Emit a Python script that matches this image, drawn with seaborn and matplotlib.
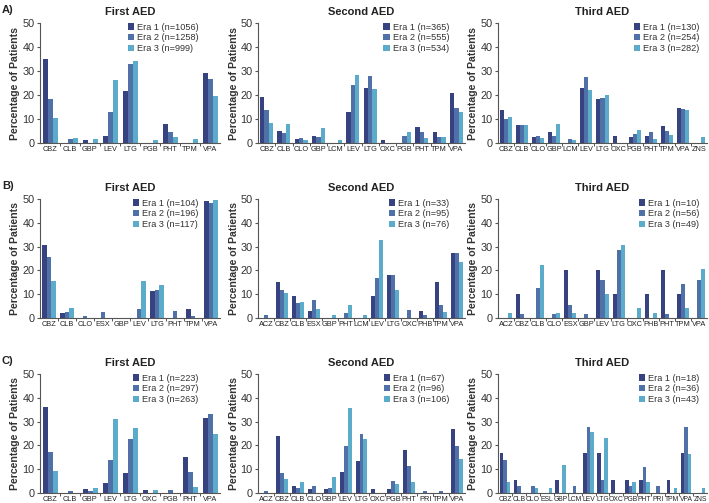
import numpy as np
import pandas as pd
import seaborn as sns
import matplotlib.pyplot as plt

sns.set_theme(style="ticks")
plt.rcParams['font.family'] = ['Liberation Sans', 'DejaVu Sans']

era_names = ["Era 1", "Era 2", "Era 3"]
era_colors = ["#2b3a8c", "#416db6", "#4ab3dc"]
row_labels = ["A)", "B)", "C)"]
col_titles = ["First AED", "Second AED", "Third AED"]

# ---- Row A ----
a1_drugs = ["CBZ", "CLB", "GBP", "LEV", "LTG", "PGB", "PHT", "TPM", "VPA"]
a1_n = [1056, 1258, 999]
a1_era1 = [35.0, 0.0, 1.4, 2.8, 21.8, 0.0, 7.8, 0.0, 29.0]
a1_era2 = [18.3, 1.8, 0.0, 13.0, 32.8, 0.0, 4.6, 0.0, 26.7]
a1_era3 = [10.6, 2.1, 1.8, 26.3, 34.2, 1.1, 2.4, 1.7, 19.5]

a2_drugs = ["CBZ", "CLB", "CLO", "GBP", "LCM", "LEV", "LTG", "OXC", "PGB", "PHT", "TPM", "VPA"]
a2_n = [365, 555, 534]
a2_era1 = [19.3, 5.2, 1.7, 3.0, 0.0, 13.0, 23.0, 1.4, 0.0, 6.8, 4.4, 20.8]
a2_era2 = [13.6, 4.1, 2.2, 2.3, 0.0, 24.0, 28.0, 0.0, 3.0, 4.5, 2.7, 14.4]
a2_era3 = [8.4, 8.1, 1.1, 6.3, 1.1, 28.5, 22.7, 0.0, 4.5, 2.2, 2.6, 13.1]

a3_drugs = ["CBZ", "CLB", "CLO", "GBP", "LCM", "LEV", "LTG", "OXC", "PGB", "PHT", "TPM", "VPA", "ZNS"]
a3_n = [130, 254, 282]
a3_era1 = [13.8, 7.7, 2.3, 4.6, 0.0, 23.1, 18.5, 3.1, 2.3, 3.1, 6.9, 14.6, 0.0]
a3_era2 = [10.1, 7.5, 2.9, 2.8, 1.6, 27.6, 18.9, 0.0, 3.9, 4.7, 5.1, 14.2, 0.0]
a3_era3 = [11.0, 7.4, 2.2, 7.8, 1.1, 22.0, 20.2, 0.0, 5.3, 1.8, 3.5, 13.8, 2.5]

# ---- Row B ----
b1_drugs = ["CBZ", "CLB", "CLO", "ESX", "GBP", "LEV", "LTG", "PHT", "TPM", "VPA"]
b1_n = [104, 196, 117]
b1_era1 = [30.8, 1.9, 0.0, 0.0, 0.0, 0.0, 11.5, 0.0, 3.8, 49.0]
b1_era2 = [25.5, 2.6, 1.0, 2.6, 0.0, 3.6, 11.7, 3.1, 1.0, 48.5]
b1_era3 = [15.4, 4.3, 0.0, 0.0, 0.0, 15.4, 13.7, 0.0, 0.0, 49.6]

b2_drugs = ["ACZ", "CBZ", "CLB", "ESX", "GBP", "PHT", "LCM", "LEV", "LTG", "OXC", "PHB", "TPM", "VPA"]
b2_n = [33, 95, 76]
b2_era1 = [0.0, 15.2, 9.1, 3.0, 0.0, 0.0, 0.0, 9.1, 18.2, 0.0, 3.0, 15.2, 27.3]
b2_era2 = [1.1, 11.6, 6.3, 7.4, 0.0, 2.1, 0.0, 16.8, 17.9, 3.2, 1.1, 5.3, 27.4]
b2_era3 = [0.0, 10.5, 6.6, 3.9, 1.3, 5.3, 1.3, 32.9, 11.8, 0.0, 0.0, 2.6, 23.7]

b3_drugs = ["ACZ", "CBZ", "CLB", "CLO", "ESX", "GBP", "LEV", "LTG", "OXC", "PHB", "PHT", "TPM", "VPA"]
b3_n = [10, 56, 49]
b3_era1 = [0.0, 10.0, 0.0, 0.0, 20.0, 0.0, 20.0, 10.0, 0.0, 10.0, 20.0, 10.0, 0.0]
b3_era2 = [0.0, 1.8, 12.5, 1.8, 5.4, 1.8, 16.1, 28.6, 0.0, 0.0, 1.8, 14.3, 16.1]
b3_era3 = [2.0, 0.0, 22.4, 2.0, 2.0, 0.0, 10.2, 30.6, 4.1, 2.0, 0.0, 4.1, 20.4]

# ---- Row C ----
c1_drugs = ["CBZ", "CLB", "GBP", "LEV", "LTG", "OXC", "PGB", "PHT", "VPA"]
c1_n = [223, 297, 263]
c1_era1 = [36.3, 0.0, 1.8, 4.0, 8.5, 1.3, 0.0, 15.2, 31.4]
c1_era2 = [17.2, 1.0, 1.0, 13.8, 22.6, 0.0, 1.3, 8.8, 33.0]
c1_era3 = [9.1, 0.0, 1.9, 31.2, 27.4, 1.1, 0.0, 2.7, 24.7]

c2_drugs = ["ACZ", "CBZ", "CLB", "CLO", "GBP", "LEV", "LTG", "OXC", "PGB", "PHT", "PRI", "TPM", "VPA"]
c2_n = [67, 96, 106]
c2_era1 = [0.0, 23.9, 3.0, 1.5, 1.5, 9.0, 13.4, 1.5, 1.5, 17.9, 0.0, 0.0, 26.9]
c2_era2 = [1.0, 8.3, 2.1, 3.1, 2.1, 19.8, 25.0, 0.0, 5.2, 11.5, 1.0, 1.0, 19.8]
c2_era3 = [0.0, 5.7, 4.7, 0.0, 6.6, 35.8, 22.6, 0.0, 3.8, 4.7, 0.0, 0.0, 14.2]

c3_drugs = ["CBZ", "CLB", "CLO", "ESL", "GBP", "LCM", "LEV", "LTG", "OXC", "PGB", "PHT", "PRI", "TPM", "VPA", "ZNS"]
c3_n = [18, 36, 43]
c3_era1 = [16.7, 5.6, 0.0, 0.0, 5.6, 0.0, 16.7, 16.7, 5.6, 5.6, 5.6, 0.0, 5.6, 16.7, 0.0]
c3_era2 = [13.9, 2.8, 2.8, 0.0, 0.0, 2.8, 27.8, 5.6, 0.0, 2.8, 11.1, 2.8, 0.0, 27.8, 0.0]
c3_era3 = [4.7, 0.0, 2.3, 2.3, 11.6, 0.0, 25.6, 23.3, 0.0, 4.7, 4.7, 0.0, 2.3, 16.3, 2.3]

panels = [
    [(a1_drugs, a1_n, a1_era1, a1_era2, a1_era3),
     (a2_drugs, a2_n, a2_era1, a2_era2, a2_era3),
     (a3_drugs, a3_n, a3_era1, a3_era2, a3_era3)],
    [(b1_drugs, b1_n, b1_era1, b1_era2, b1_era3),
     (b2_drugs, b2_n, b2_era1, b2_era2, b2_era3),
     (b3_drugs, b3_n, b3_era1, b3_era2, b3_era3)],
    [(c1_drugs, c1_n, c1_era1, c1_era2, c1_era3),
     (c2_drugs, c2_n, c2_era1, c2_era2, c2_era3),
     (c3_drugs, c3_n, c3_era1, c3_era2, c3_era3)],
]

W, H = 709, 503
fig = plt.figure(figsize=(W / 100, H / 100), dpi=100)

col_px = [(40, 220), (258, 465), (498, 707)]
row_px = [(23, 143), (199, 318), (374, 493)]
ylab_x = [20, 239, 478]
leg_x = [0.91, 0.95, 0.99]

for r in range(3):
    for c in range(3):
        drugs, ns, e1, e2, e3 = panels[r][c]
        x0, x1 = col_px[c]
        y0, y1 = row_px[r]
        ax = fig.add_axes([x0 / W, 1 - y1 / H, (x1 - x0) / W, (y1 - y0) / H])
        hue_labels = [f"{name} (n={n})" for name, n in zip(era_names, ns)]
        rows = []
        for lab, vals in zip(hue_labels, (e1, e2, e3)):
            for d, v in zip(drugs, vals):
                rows.append({"Drug": d, "Era": lab, "Pct": v})
        df = pd.DataFrame(rows)
        sns.barplot(data=df, x="Drug", y="Pct", hue="Era", order=drugs,
                    hue_order=hue_labels, palette=era_colors, width=0.75,
                    gap=0, errorbar=None, linewidth=0, ax=ax)
        ax.set_ylim(0, 50)
        ax.set_xlim(-0.5, len(drugs) - 0.5)
        ax.set_yticks(range(0, 51, 10))
        ax.tick_params(axis="y", labelsize=7.8, labelcolor="#333333",
                       length=2.5, width=0.8, color="#555555", pad=1.5)
        ax.tick_params(axis="x", which="major", length=0, pad=2.5,
                       labelcolor="#222222")
        xls = 5.3 if len(drugs) <= 13 else 4.9
        for t in ax.get_xticklabels():
            t.set_fontfamily(['Liberation Sans Narrow', 'Liberation Sans'])
            t.set_fontsize(xls)
        ax.set_xticks(np.arange(0.5, len(drugs) - 0.5, 1.0), minor=True)
        ax.tick_params(axis="x", which="minor", length=2.5, width=0.7,
                       color="#555555")
        for s in ("top", "right"):
            ax.spines[s].set_visible(False)
        for s in ("left", "bottom"):
            ax.spines[s].set_linewidth(0.8)
            ax.spines[s].set_color("#555555")
        ax.set_xlabel("")
        ax.set_ylabel("Percentage of Patients", fontsize=7.6,
                      fontweight="bold", color="#333333")
        ax.yaxis.set_label_coords((ylab_x[c] - x0) / (x1 - x0), 0.5)
        handles, labels = ax.get_legend_handles_labels()
        ax.legend(handles, labels, loc="upper right", frameon=False,
                  fontsize=6.6, handlelength=0.7, handleheight=0.7,
                  handletextpad=0.3, labelspacing=0.2,
                  bbox_to_anchor=(leg_x[c], 1.05),
                  borderaxespad=0.2, labelcolor="#333333")
        ax.set_title(col_titles[c], fontsize=8, fontweight="bold", pad=6,
                     color="#222222")
    fig.text(2 / W, 1 - (row_px[r][0] - 13) / H, row_labels[r],
             fontsize=8, fontweight="bold", va="center", ha="left",
             color="#222222")

fig.savefig("out.png", dpi=100)
